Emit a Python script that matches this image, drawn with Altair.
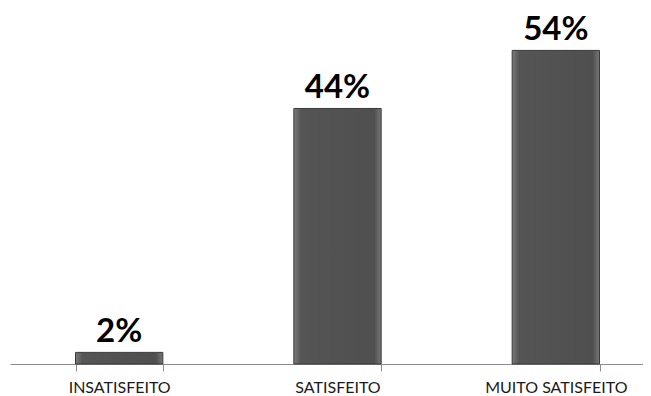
import altair as alt
import pandas as pd

categories = ["INSATISFEITO", "SATISFEITO", "MUITO SATISFEITO"]
values = [2, 44, 54]
labels = ["2%", "44%", "54%"]

df = pd.DataFrame({"cat": categories, "val": values, "lab": labels})

x = alt.X("cat:N", sort=categories, title=None,
          scale=alt.Scale(range=[0, 655], paddingInner=0.6, paddingOuter=0.3),
          axis=alt.Axis(labelAngle=0, labelFont="Lato", labelFontSize=16,
                        labelColor="#1a1a1a", domainColor="#8c8c8c", tickColor="#8c8c8c",
                        tickSize=7, tickBand="extent", labelPadding=8, domainWidth=1,
                        labelBaseline="top"))
y = alt.Y("val:Q", scale=alt.Scale(domain=[0, 61.3], nice=False), axis=None)

grad = alt.Gradient(gradient="linear", x1=0, x2=1, y1=0, y2=0,
                    stops=[alt.GradientStop(offset=0, color="#7a7a7a"),
                           alt.GradientStop(offset=0.08, color="#555555"),
                           alt.GradientStop(offset=0.92, color="#4f4f4f"),
                           alt.GradientStop(offset=1, color="#777777")])

bars = alt.Chart(df).mark_bar(fill=grad, stroke="#3a3a3a", strokeWidth=1).encode(x=x, y=y)
text = alt.Chart(df).mark_text(font="Lato", fontWeight="bold", fontSize=33, color="#000000",
                               baseline="alphabetic", dy=-10).encode(x=x, y=y, text="lab:N")

chart = (bars + text).properties(
    width=633, height=356,
    autosize=alt.AutoSizeParams(type="none"),
    padding={"left": 2, "top": 0, "right": 0, "bottom": 32},
).configure_view(stroke=None)

chart.save("out.html", embed_options={"renderer": "svg", "actions": False})
